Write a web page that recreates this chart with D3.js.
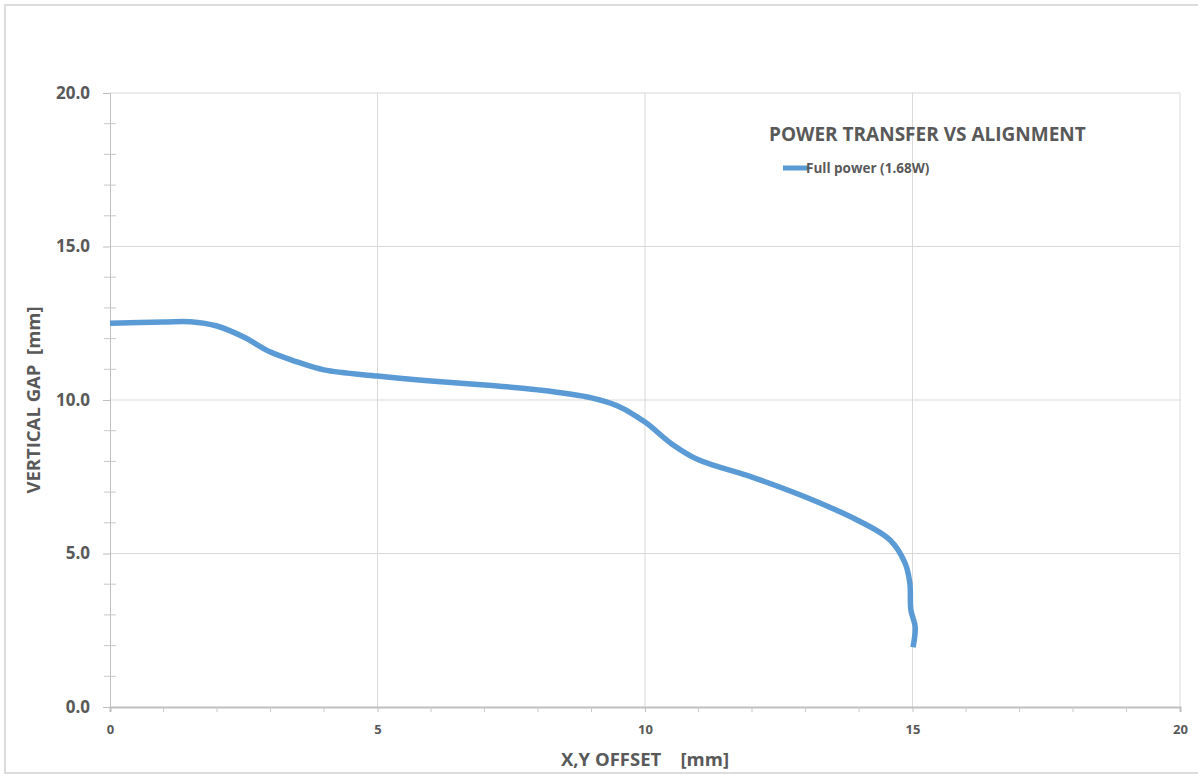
<!DOCTYPE html>
<html>
<head>
<meta charset="utf-8">
<script src="https://cdn.jsdelivr.net/npm/d3@7"></script>
<style>
  html, body { margin: 0; padding: 0; background: #fff; }
  text { font-family: "Open Sans", "Liberation Sans", sans-serif; }
</style>
</head>
<body>
<div id="chart"></div>
<script>
// 数据
const offsetX = [0, 1, 1.5, 2, 2.5, 3, 3.5, 4, 5, 6, 7, 8, 9, 9.5, 10, 10.5, 11, 12, 13, 14, 14.58, 14.86, 14.95, 14.97, 15.05, 15.01];
const gapY = [12.5, 12.54, 12.55, 12.41, 12.05, 11.56, 11.24, 10.98, 10.78, 10.62, 10.49, 10.33, 10.07, 9.8, 9.28, 8.57, 8.05, 7.49, 6.84, 6.06, 5.44, 4.69, 4.04, 3.16, 2.61, 1.95];
const xTicks = [0, 5, 10, 15, 20];
const yTicks = [0, 5, 10, 15, 20];
const seriesName = 'Full power (1.68W)';
const chartTitle = 'POWER TRANSFER VS ALIGNMENT';

const config = {
    width: 1198,
    height: 782,
    margin: { top: 93, right: 18, bottom: 75, left: 110 },
    lineColor: '#5b9bd5',
    gridColor: '#d9d9d9',
    textColor: '#595959'
};

function init() {
    const width = config.width - config.margin.left - config.margin.right;
    const height = config.height - config.margin.top - config.margin.bottom;

    const svg = d3.select('#chart').append('svg')
        .attr('width', config.width)
        .attr('height', config.height);

    // 外框
    svg.append('rect')
        .attr('x', 5).attr('y', 5)
        .attr('width', config.width).attr('height', 768)
        .attr('fill', 'none')
        .attr('stroke', '#dcdcdc')
        .attr('stroke-width', 2);

    const g = svg.append('g')
        .attr('transform', `translate(${config.margin.left},${config.margin.top})`);

    const x = d3.scaleLinear().domain([0, 20]).range([0, width]);
    const y = d3.scaleLinear().domain([0, 20]).range([height, 0]);

    // 网格线
    g.append('g').selectAll('line')
        .data(yTicks.filter(d => d > 0))
        .join('line')
        .attr('x1', 0).attr('x2', width)
        .attr('y1', d => y(d)).attr('y2', d => y(d))
        .attr('stroke', config.gridColor).attr('stroke-width', 1);

    g.append('g').selectAll('line')
        .data(xTicks.filter(d => d > 0))
        .join('line')
        .attr('x1', d => x(d)).attr('x2', d => x(d))
        .attr('y1', 0).attr('y2', height)
        .attr('stroke', config.gridColor).attr('stroke-width', 1);

    // y 轴
    const yAxis = g.append('g')
        .call(d3.axisLeft(y).tickValues(yTicks).tickFormat(d3.format('.1f')).tickSize(7).tickPadding(13));
    yAxis.select('.domain').attr('stroke', '#bfbfbf');
    yAxis.selectAll('.tick line').attr('stroke', '#bfbfbf');
    yAxis.selectAll('text')
        .attr('fill', config.textColor)
        .style('font-size', '17px')
        .style('font-weight', 'bold');

    // y 次刻度
    g.append('g').selectAll('line')
        .data(d3.range(0, 21).filter(d => d % 5 !== 0))
        .join('line')
        .attr('x1', -6).attr('x2', 6)
        .attr('y1', d => y(d)).attr('y2', d => y(d))
        .attr('stroke', '#c8c8c8');

    // x 轴
    const xAxis = g.append('g')
        .attr('transform', `translate(0,${height})`)
        .call(d3.axisBottom(x).tickValues(xTicks).tickSize(5).tickPadding(13));
    xAxis.select('.domain').attr('stroke', '#bfbfbf').attr('stroke-width', 2);
    xAxis.selectAll('.tick line').attr('stroke', '#bfbfbf');
    xAxis.selectAll('text')
        .attr('fill', config.textColor)
        .style('font-size', '13px')
        .style('font-weight', 'bold');

    // x 次刻度
    g.append('g').selectAll('line')
        .data(d3.range(0, 21).filter(d => d % 5 !== 0))
        .join('line')
        .attr('x1', d => x(d)).attr('x2', d => x(d))
        .attr('y1', height).attr('y2', height + 5)
        .attr('stroke', '#c8c8c8');

    // 曲线
    const pts = offsetX.map((d, i) => [d, gapY[i]]);
    const line = d3.line()
        .x(d => x(d[0]))
        .y(d => y(d[1]))
        .curve(d3.curveCatmullRom.alpha(0.5));

    g.append('path')
        .datum(pts)
        .attr('d', line)
        .attr('fill', 'none')
        .attr('stroke', config.lineColor)
        .attr('stroke-width', 5.5)
        .attr('stroke-linejoin', 'round');

    // 轴标题
    svg.append('text')
        .attr('x', 645).attr('y', 766)
        .attr('text-anchor', 'middle')
        .attr('fill', config.textColor)
        .style('font-size', '18.5px')
        .style('font-weight', 'bold')
        .style('white-space', 'pre')
        .text('X,Y OFFSET    [mm]');

    svg.append('text')
        .attr('transform', 'translate(40,400) rotate(-90)')
        .attr('text-anchor', 'middle')
        .attr('fill', config.textColor)
        .style('font-size', '18.5px')
        .style('font-weight', 'bold')
        .style('white-space', 'pre')
        .text('VERTICAL GAP  [mm]');

    // 标题和图例
    svg.append('text')
        .attr('x', 769).attr('y', 141)
        .attr('fill', config.textColor)
        .style('font-size', '19px')
        .style('font-weight', 'bold')
        .text(chartTitle);

    svg.append('line')
        .attr('x1', 783).attr('x2', 808)
        .attr('y1', 168).attr('y2', 168)
        .attr('stroke', config.lineColor)
        .attr('stroke-width', 5);

    svg.append('text')
        .attr('x', 806).attr('y', 173)
        .attr('fill', config.textColor)
        .style('font-size', '13.5px')
        .style('font-weight', 'bold')
        .text(seriesName);
}

window.addEventListener('DOMContentLoaded', init);
</script>
</body>
</html>
